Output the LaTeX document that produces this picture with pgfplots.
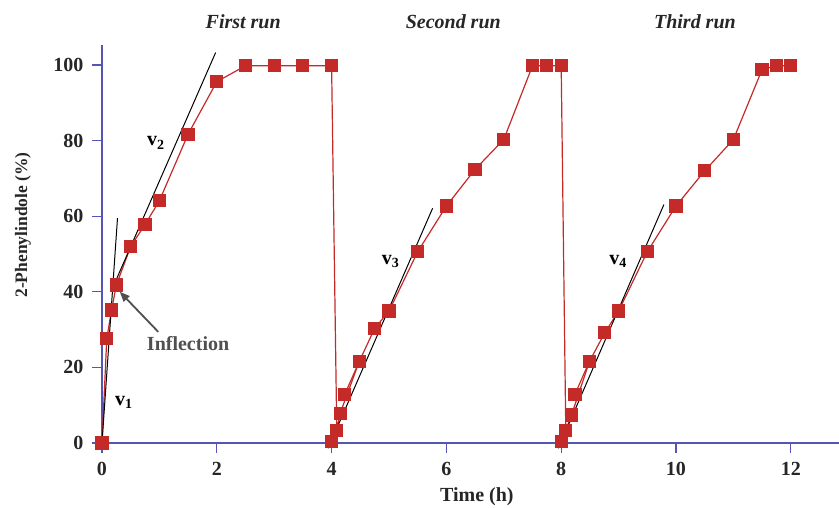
\documentclass[border=0pt]{standalone}
\usepackage{fontspec}
\setmainfont{Liberation Serif}
\usepackage{pgfplots}
\pgfplotsset{compat=1.18}
\usetikzlibrary{arrows.meta}
\definecolor{axblue}{RGB}{85,85,180}
\definecolor{dred}{RGB}{196,42,40}
\definecolor{agray}{RGB}{80,80,80}
\begin{document}
\begin{tikzpicture}
\useasboundingbox (-102pt,-65pt) rectangle (737pt,443pt);
\begin{axis}[
  scale only axis, width=737pt, height=398pt,
  xmin=0, xmax=12.84, ymin=0, ymax=105.3,
  axis lines=left, axis line style={draw=axblue, line width=1.3pt, -},
  tick style={draw=axblue, line width=1.3pt},
  tick align=outside, major tick length=10pt,
  xtick={0,2,4,6,8,10,12}, ytick={0,20,40,60,80,100},
  /pgf/number format/assume math mode=true,
  tick label style={font=\fontsize{20}{24}\selectfont\bfseries, text=black!85},
  xticklabel style={yshift=-6pt},
  yticklabel style={xshift=-5pt},
  clip=false,
]
\addplot[dred, line width=1.2pt, mark=square*, mark size=6pt, mark options={fill=dred, draw=dred}] coordinates {
(0,0) (0.083,27.6) (0.167,35.2) (0.25,41.8) (0.5,52) (0.75,57.8) (1.0,64.1) (1.5,81.7) (2.0,95.6) (2.5,99.8) (3.0,99.8) (3.5,99.8) (4.0,99.8)
(4.09,3.4) (4.15,7.9) (4.48,21.5) (4.75,30.3) (5.0,34.9) (5.5,50.6) (6.0,62.7) (6.5,72.4) (7.0,80.3) (7.5,99.8) (7.75,99.8) (8.0,99.8)
(8.08,3.4) (8.18,7.4) (8.49,21.5) (8.76,29.2) (9.0,34.9) (9.5,50.6) (10.0,62.7) (10.5,72.0) (11.0,80.3) (11.5,98.8) (11.75,99.8) (12.0,99.8)
};
\addplot[dred, line width=1.2pt, mark=square*, mark size=6pt, mark options={fill=dred, draw=dred}] coordinates {(4.0,0.3) (4.09,3.4)};
\addplot[dred, line width=1.2pt, mark=square*, mark size=6pt, mark options={fill=dred, draw=dred}] coordinates {(4.23,12.9) (4.48,21.5)};
\addplot[dred, line width=1.2pt, mark=square*, mark size=6pt, mark options={fill=dred, draw=dred}] coordinates {(8.01,0.3) (8.08,3.4)};
\addplot[dred, line width=1.2pt, mark=square*, mark size=6pt, mark options={fill=dred, draw=dred}] coordinates {(8.24,12.9) (8.49,21.5)};
% tangents
\addplot[black, line width=1pt, no marks] coordinates {(0,0) (0.27,59.5)};
\addplot[black, line width=1pt, no marks] coordinates {(0.17,40.5) (1.98,103.3)};
\addplot[black, line width=1pt, no marks] coordinates {(3.94,-1.4) (5.76,62.1)};
\addplot[black, line width=1pt, no marks] coordinates {(7.95,-1.4) (9.79,63.1)};
% annotations
\draw[agray, line width=1.8pt, -{Triangle[length=10pt,width=8pt]}] (axis cs:0.98,29.4) -- (axis cs:0.31,40);
\node[agray, font=\fontsize{20}{24}\selectfont\bfseries] at (axis cs:1.50,26.4) {Inflection};
\node[font=\fontsize{20}{24}\selectfont\bfseries] at (axis cs:0.38,10.8) {v\textsubscript{1}};
\node[font=\fontsize{20}{24}\selectfont\bfseries] at (axis cs:0.94,79.4) {v\textsubscript{2}};
\node[font=\fontsize{20}{24}\selectfont\bfseries] at (axis cs:5.03,48.1) {v\textsubscript{3}};
\node[font=\fontsize{20}{24}\selectfont\bfseries] at (axis cs:8.99,48.1) {v\textsubscript{4}};
\node[font=\fontsize{20}{24}\selectfont\bfseries\itshape, text=black!85] at (axis cs:2.46,111.5) {First run};
\node[font=\fontsize{20}{24}\selectfont\bfseries\itshape, text=black!85] at (axis cs:6.12,111.5) {Second run};
\node[font=\fontsize{20}{24}\selectfont\bfseries\itshape, text=black!85] at (axis cs:10.33,111.5) {Third run};
\node[font=\fontsize{20}{24}\selectfont\bfseries, text=black!85] at (axis cs:6.53,-14.3) {Time (h)};
\node[font=\fontsize{17.5}{21}\selectfont\bfseries, text=black!85, rotate=90] at (axis cs:-1.376,57.7) {2-Phenylindole (\%)};
\end{axis}
\end{tikzpicture}
\end{document}
